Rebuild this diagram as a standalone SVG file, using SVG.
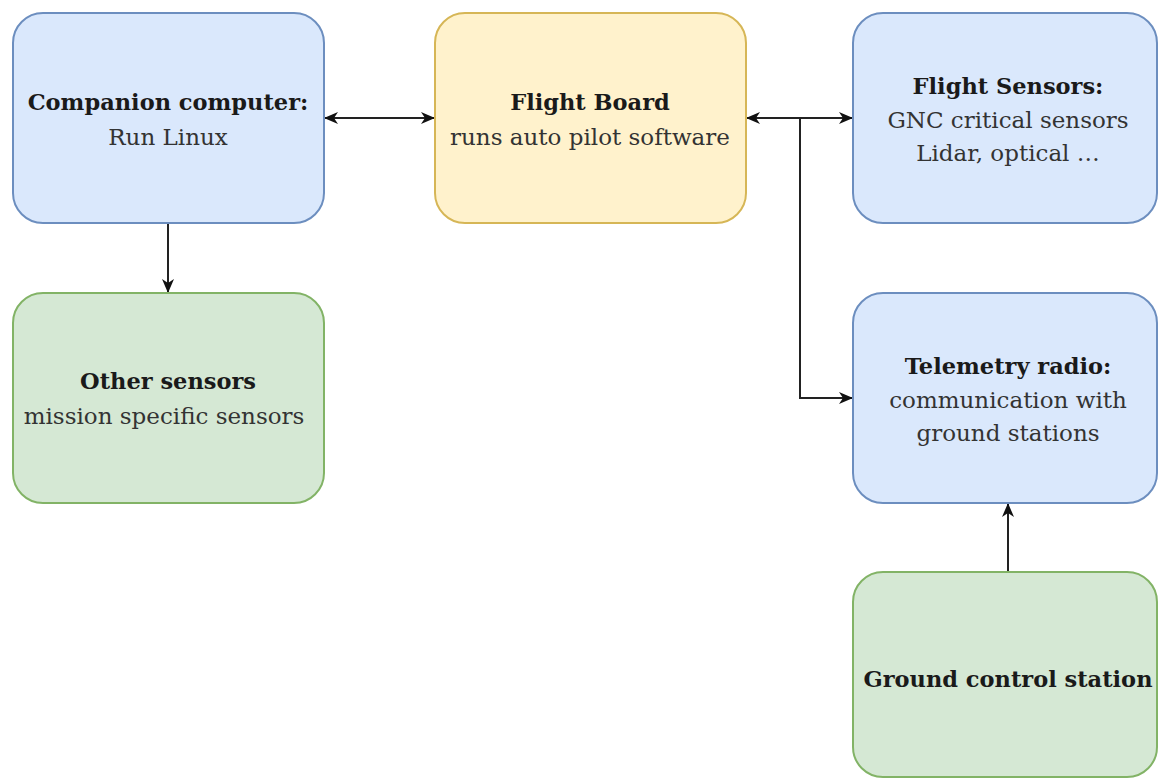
<svg xmlns="http://www.w3.org/2000/svg" width="1159" height="779" viewBox="0 0 1159 779">
<style>
.blue{fill:#dae8fc;stroke:#6c8ebf;stroke-width:2}
.yellow{fill:#fff2cc;stroke:#d6b656;stroke-width:2}
.green{fill:#d5e8d4;stroke:#82b366;stroke-width:2}
text{font-family:'DejaVu Serif',serif;text-anchor:middle}
.b{font-weight:bold;fill:#1a1a1a;font-size:22.5px}
.r{fill:#333333;font-size:23px}
.c{fill:none;stroke:#222222;stroke-width:2}
</style>
<defs>
<marker id="ah" viewBox="0 0 14 14" refX="13" refY="7" markerWidth="14" markerHeight="14" markerUnits="userSpaceOnUse" orient="auto-start-reverse">
<path d="M0,1 L14,7 L0,13 L4,7 Z" fill="#111111"/>
</marker>
</defs>
<rect width="1159" height="779" fill="#ffffff"/>
<g id="connectors">
<line class="c" x1="325" y1="118" x2="434" y2="118" marker-start="url(#ah)" marker-end="url(#ah)"/>
<line class="c" x1="747" y1="118" x2="852" y2="118" marker-start="url(#ah)" marker-end="url(#ah)"/>
<polyline class="c" points="800,118 800,398 852,398" marker-end="url(#ah)"/>
<line class="c" x1="168" y1="224" x2="168" y2="292" marker-end="url(#ah)"/>
<line class="c" x1="1008" y1="572" x2="1008" y2="504" marker-end="url(#ah)"/>
</g>
<g id="companion">
<rect class="blue" x="13" y="13" width="311" height="210" rx="30"/>
<text class="b" x="168" y="110">Companion computer:</text>
<text class="r" x="168" y="145">Run Linux</text>
</g>
<g id="flightboard">
<rect class="yellow" x="435" y="13" width="311" height="210" rx="30"/>
<text class="b" x="590" y="110">Flight Board</text>
<text class="r" x="590" y="145">runs auto pilot software</text>
</g>
<g id="flightsensors">
<rect class="blue" x="853" y="13" width="304" height="210" rx="30"/>
<text class="b" x="1008" y="94">Flight Sensors:</text>
<text class="r" x="1008" y="128">GNC critical sensors</text>
<text class="r" x="1008" y="161">Lidar, optical …</text>
</g>
<g id="othersensors">
<rect class="green" x="13" y="293" width="311" height="210" rx="30"/>
<text class="b" x="168" y="389">Other sensors</text>
<text class="r" x="164" y="424">mission specific sensors</text>
</g>
<g id="telemetry">
<rect class="blue" x="853" y="293" width="304" height="210" rx="30"/>
<text class="b" x="1008" y="374">Telemetry radio:</text>
<text class="r" x="1008" y="408">communication with</text>
<text class="r" x="1008" y="441">ground stations</text>
</g>
<g id="groundcontrol">
<rect class="green" x="853" y="572" width="304" height="205" rx="30"/>
<text class="b" x="1008" y="687">Ground control station</text>
</g>
</svg>
